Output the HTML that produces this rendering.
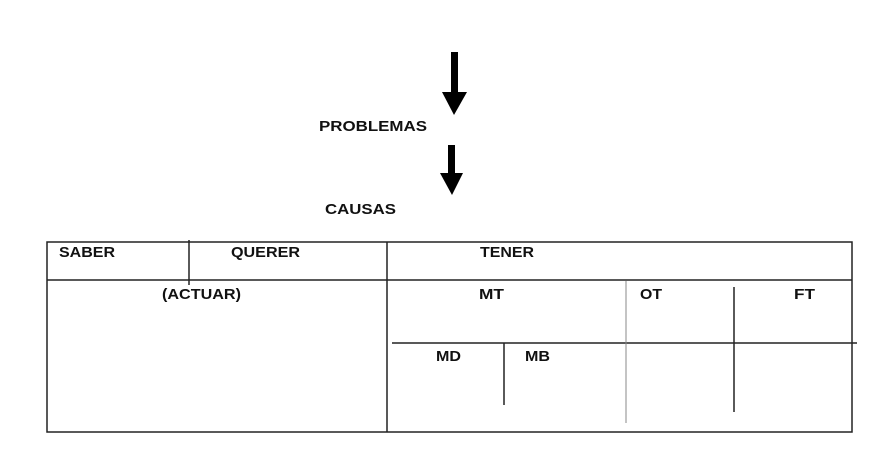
<!DOCTYPE html>
<html><head><style>body{margin:0;background:#fff}svg{display:block}</style></head>
<body>
<svg width="886" height="458" xmlns="http://www.w3.org/2000/svg" font-family="Liberation Sans, sans-serif" font-weight="bold" font-size="15" fill="#111">
<rect x="451" y="52" width="7" height="42" fill="#000"/>
<polygon points="442,92 467,92 454,115" fill="#000"/>
<rect x="448" y="145" width="7" height="30" fill="#000"/>
<polygon points="440,173 463,173 452,195" fill="#000"/>
<text x="319" y="131" textLength="108" lengthAdjust="spacingAndGlyphs">PROBLEMAS</text>
<text x="325" y="214" textLength="71" lengthAdjust="spacingAndGlyphs">CAUSAS</text>
<g stroke="#222" stroke-width="1.5" fill="none">
<rect x="47" y="242" width="805" height="190"/>
<line x1="47" y1="280" x2="852" y2="280"/>
<line x1="387" y1="242" x2="387" y2="432"/>
<line x1="189" y1="240" x2="189" y2="285"/>
<line x1="392" y1="343" x2="857" y2="343"/>
<line x1="504" y1="343" x2="504" y2="405"/>
<line x1="734" y1="287" x2="734" y2="412"/>
</g>
<line x1="626" y1="281" x2="626" y2="423" stroke="#888" stroke-width="1"/>
<text x="59" y="257" textLength="56" lengthAdjust="spacingAndGlyphs">SABER</text>
<text x="231" y="257" textLength="69" lengthAdjust="spacingAndGlyphs">QUERER</text>
<text x="162" y="299" textLength="79" lengthAdjust="spacingAndGlyphs">(ACTUAR)</text>
<text x="480" y="257" textLength="54" lengthAdjust="spacingAndGlyphs">TENER</text>
<text x="479" y="299" textLength="25" lengthAdjust="spacingAndGlyphs">MT</text>
<text x="640" y="299" textLength="22" lengthAdjust="spacingAndGlyphs">OT</text>
<text x="794" y="299" textLength="21" lengthAdjust="spacingAndGlyphs">FT</text>
<text x="436" y="361" textLength="25" lengthAdjust="spacingAndGlyphs">MD</text>
<text x="525" y="361" textLength="25" lengthAdjust="spacingAndGlyphs">MB</text>
</svg>
</body></html>
